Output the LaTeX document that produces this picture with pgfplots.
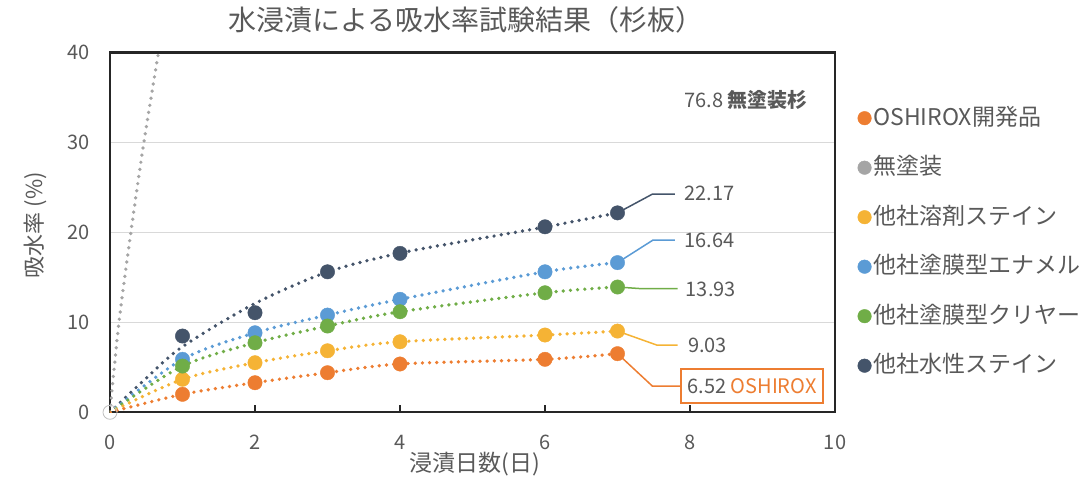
\documentclass[border=0pt]{standalone}
\usepackage{pgfplots}
\pgfplotsset{compat=1.18}
\usepackage{fontspec}
\setmainfont{Noto Sans CJK JP}
\definecolor{cOr}{HTML}{ED7D31}
\definecolor{cGy}{HTML}{A5A5A5}
\definecolor{cGd}{HTML}{F5B335}
\definecolor{cBl}{HTML}{5B9BD5}
\definecolor{cGr}{HTML}{70AD47}
\definecolor{cNv}{HTML}{44546A}
\definecolor{txt}{HTML}{595959}
\definecolor{frame}{HTML}{262626}
\definecolor{gridc}{HTML}{D9D9D9}
\begin{document}
\begin{tikzpicture}
\useasboundingbox (0pt,0pt) rectangle (1087pt,-495pt);
\node[text=txt, font=\fontsize{28}{32}\selectfont, inner sep=0pt] at (466pt,-20pt) {水浸漬による吸水率試験結果（杉板）};
\begin{axis}[
  at={(110pt,-412.3pt)}, anchor=south west, scale only axis,
  width=725pt, height=359.8pt,
  xmin=0, xmax=10, ymin=0, ymax=40,
  xtick={0,2,4,6,8,10}, ytick={0,10,20,30,40},
  axis line style={draw=frame, line width=2.2pt},
  ymajorgrids, grid style={draw=gridc, line width=1.3pt},
  tick align=inside, xtick pos=bottom,
  ytick style={draw=none}, xtick style={draw=frame, line width=1.5pt},
  major tick length=7pt,
  /pgf/number format/assume math mode=true,
  xticklabel style={font=\fontsize{20}{24}\selectfont, text=txt, inner sep=0pt, anchor=center, yshift=-29.7pt},
  yticklabel style={font=\fontsize{20}{24}\selectfont, text=txt, inner sep=0pt, anchor=east, xshift=-20pt},
  xlabel={浸漬日数(日)}, ylabel={吸水率 (\%)},
  xlabel style={font=\fontsize{23}{27}\selectfont, text=txt, at={(axis description cs:0.503,-0.145)}, anchor=center},
  ylabel style={font=\fontsize{22}{26}\selectfont, text=txt, at={(axis description cs:-0.1034,0.5206)}, anchor=center},
  legend style={at={(axis description cs:1.027,0.8597)}, anchor=north west, draw=none, fill=none,
    font=\fontsize{23}{27}\selectfont, text=txt, row sep=23.5pt,
    nodes={text height=18pt, text depth=4pt, inner sep=2pt}},
  legend cell align=left,
  legend image code/.code={\draw[#1, mark size=6.8pt] plot coordinates {(6.8pt,0pt)};},
  trend/.style={line width=3.7pt, dash pattern=on 0pt off 7.2pt, line cap=round, smooth, no marks, forget plot},
  pts/.style={only marks, mark=*, mark size=7.2pt},
  lead/.style={line width=1.5pt, sharp plot, no marks, forget plot},
]
% trend lines
\addplot[trend, cGy] coordinates {(0,0) (0.023,2.1) (0.069,5.8) (0.138,11) (0.308,21.2) (0.473,30.3) (0.667,39.9) (0.72,42.3)};
\addplot[trend, cNv] coordinates {(0,0) (0.5,3.8) (1,7.3) (2,12.1) (3,15.6) (4,17.7) (5.3,19.6) (6,20.6) (7,22.17)};
\addplot[trend, cBl] coordinates {(0,0) (1,5.89) (2,8.84) (3,10.81) (4,12.56) (6,15.62) (7,16.64)};
\addplot[trend, cGr] coordinates {(0,0) (1,5.14) (2,7.73) (3,9.59) (4,11.18) (6,13.29) (7,13.93)};
\addplot[trend, cGd] coordinates {(0,0) (1,3.67) (2,5.51) (3,6.84) (4,7.84) (6,8.59) (7,9.03)};
\addplot[trend, cOr] coordinates {(0,0) (1,2.0) (2,3.29) (3,4.40) (4,5.37) (6,5.89) (7,6.52)};
% leader lines
\addplot[lead, cNv] coordinates {(7,22.17) (7.48,24.25) (7.79,24.25)};
\addplot[lead, cBl] coordinates {(7,16.64) (7.49,19.15) (7.79,19.15)};
\addplot[lead, cGr] coordinates {(7,13.93) (7.3,13.76) (7.83,13.76)};
\addplot[lead, cGd] coordinates {(7,9.03) (7.54,7.48) (7.83,7.48)};
\addplot[lead, cOr] coordinates {(7,6.52) (7.48,2.92) (7.88,2.92)};
% origin circle
\addplot[only marks, mark=o, mark size=7pt, draw=cGy!70, line width=0.8pt, forget plot] coordinates {(0,0)};
% markers
\addplot[pts, color=cOr] coordinates {(1,2.0) (2,3.29) (3,4.40) (4,5.37) (6,5.89) (7,6.52)};
\addlegendentry{OSHIROX開発品}
\addlegendimage{mark=*, color=cGy}
\addlegendentry{無塗装}
\addplot[pts, color=cGd] coordinates {(1,3.67) (2,5.51) (3,6.84) (4,7.84) (6,8.59) (7,9.03)};
\addlegendentry{他社溶剤ステイン}
\addplot[pts, color=cBl] coordinates {(1,5.89) (2,8.84) (3,10.81) (4,12.56) (6,15.62) (7,16.64)};
\addlegendentry{他社塗膜型エナメル}
\addplot[pts, color=cGr] coordinates {(1,5.14) (2,7.73) (3,9.59) (4,11.18) (6,13.29) (7,13.93)};
\addlegendentry{他社塗膜型クリヤー}
\addplot[pts, color=cNv] coordinates {(1,8.48) (2,11.07) (3,15.62) (4,17.67) (6,20.62) (7,22.17)};
\addlegendentry{他社水性ステイン}
% labels
\node[anchor=west, text=txt, font=\fontsize{20}{24}\selectfont, inner sep=0pt] at (axis cs:7.92,34.7) {76.8 \textbf{無塗装杉}};
\node[anchor=west, text=txt, font=\fontsize{20}{24}\selectfont, inner sep=0pt] at (axis cs:7.92,24.3) {22.17};
\node[anchor=west, text=txt, font=\fontsize{20}{24}\selectfont, inner sep=0pt] at (axis cs:7.92,19.1) {16.64};
\node[anchor=west, text=txt, font=\fontsize{20}{24}\selectfont, inner sep=0pt] at (axis cs:7.94,13.7) {13.93};
\node[anchor=west, text=txt, font=\fontsize{20}{24}\selectfont, inner sep=0pt] at (axis cs:7.97,7.4) {9.03};
\node[draw=cOr, line width=1.5pt, fill=white, text=txt, font=\fontsize{20}{24}\selectfont, minimum width=142pt, minimum height=34pt, inner sep=0pt] at (axis cs:8.855,2.92) {6.52 {\color{cOr}OSHIROX}};
\end{axis}
\end{tikzpicture}
\end{document}
